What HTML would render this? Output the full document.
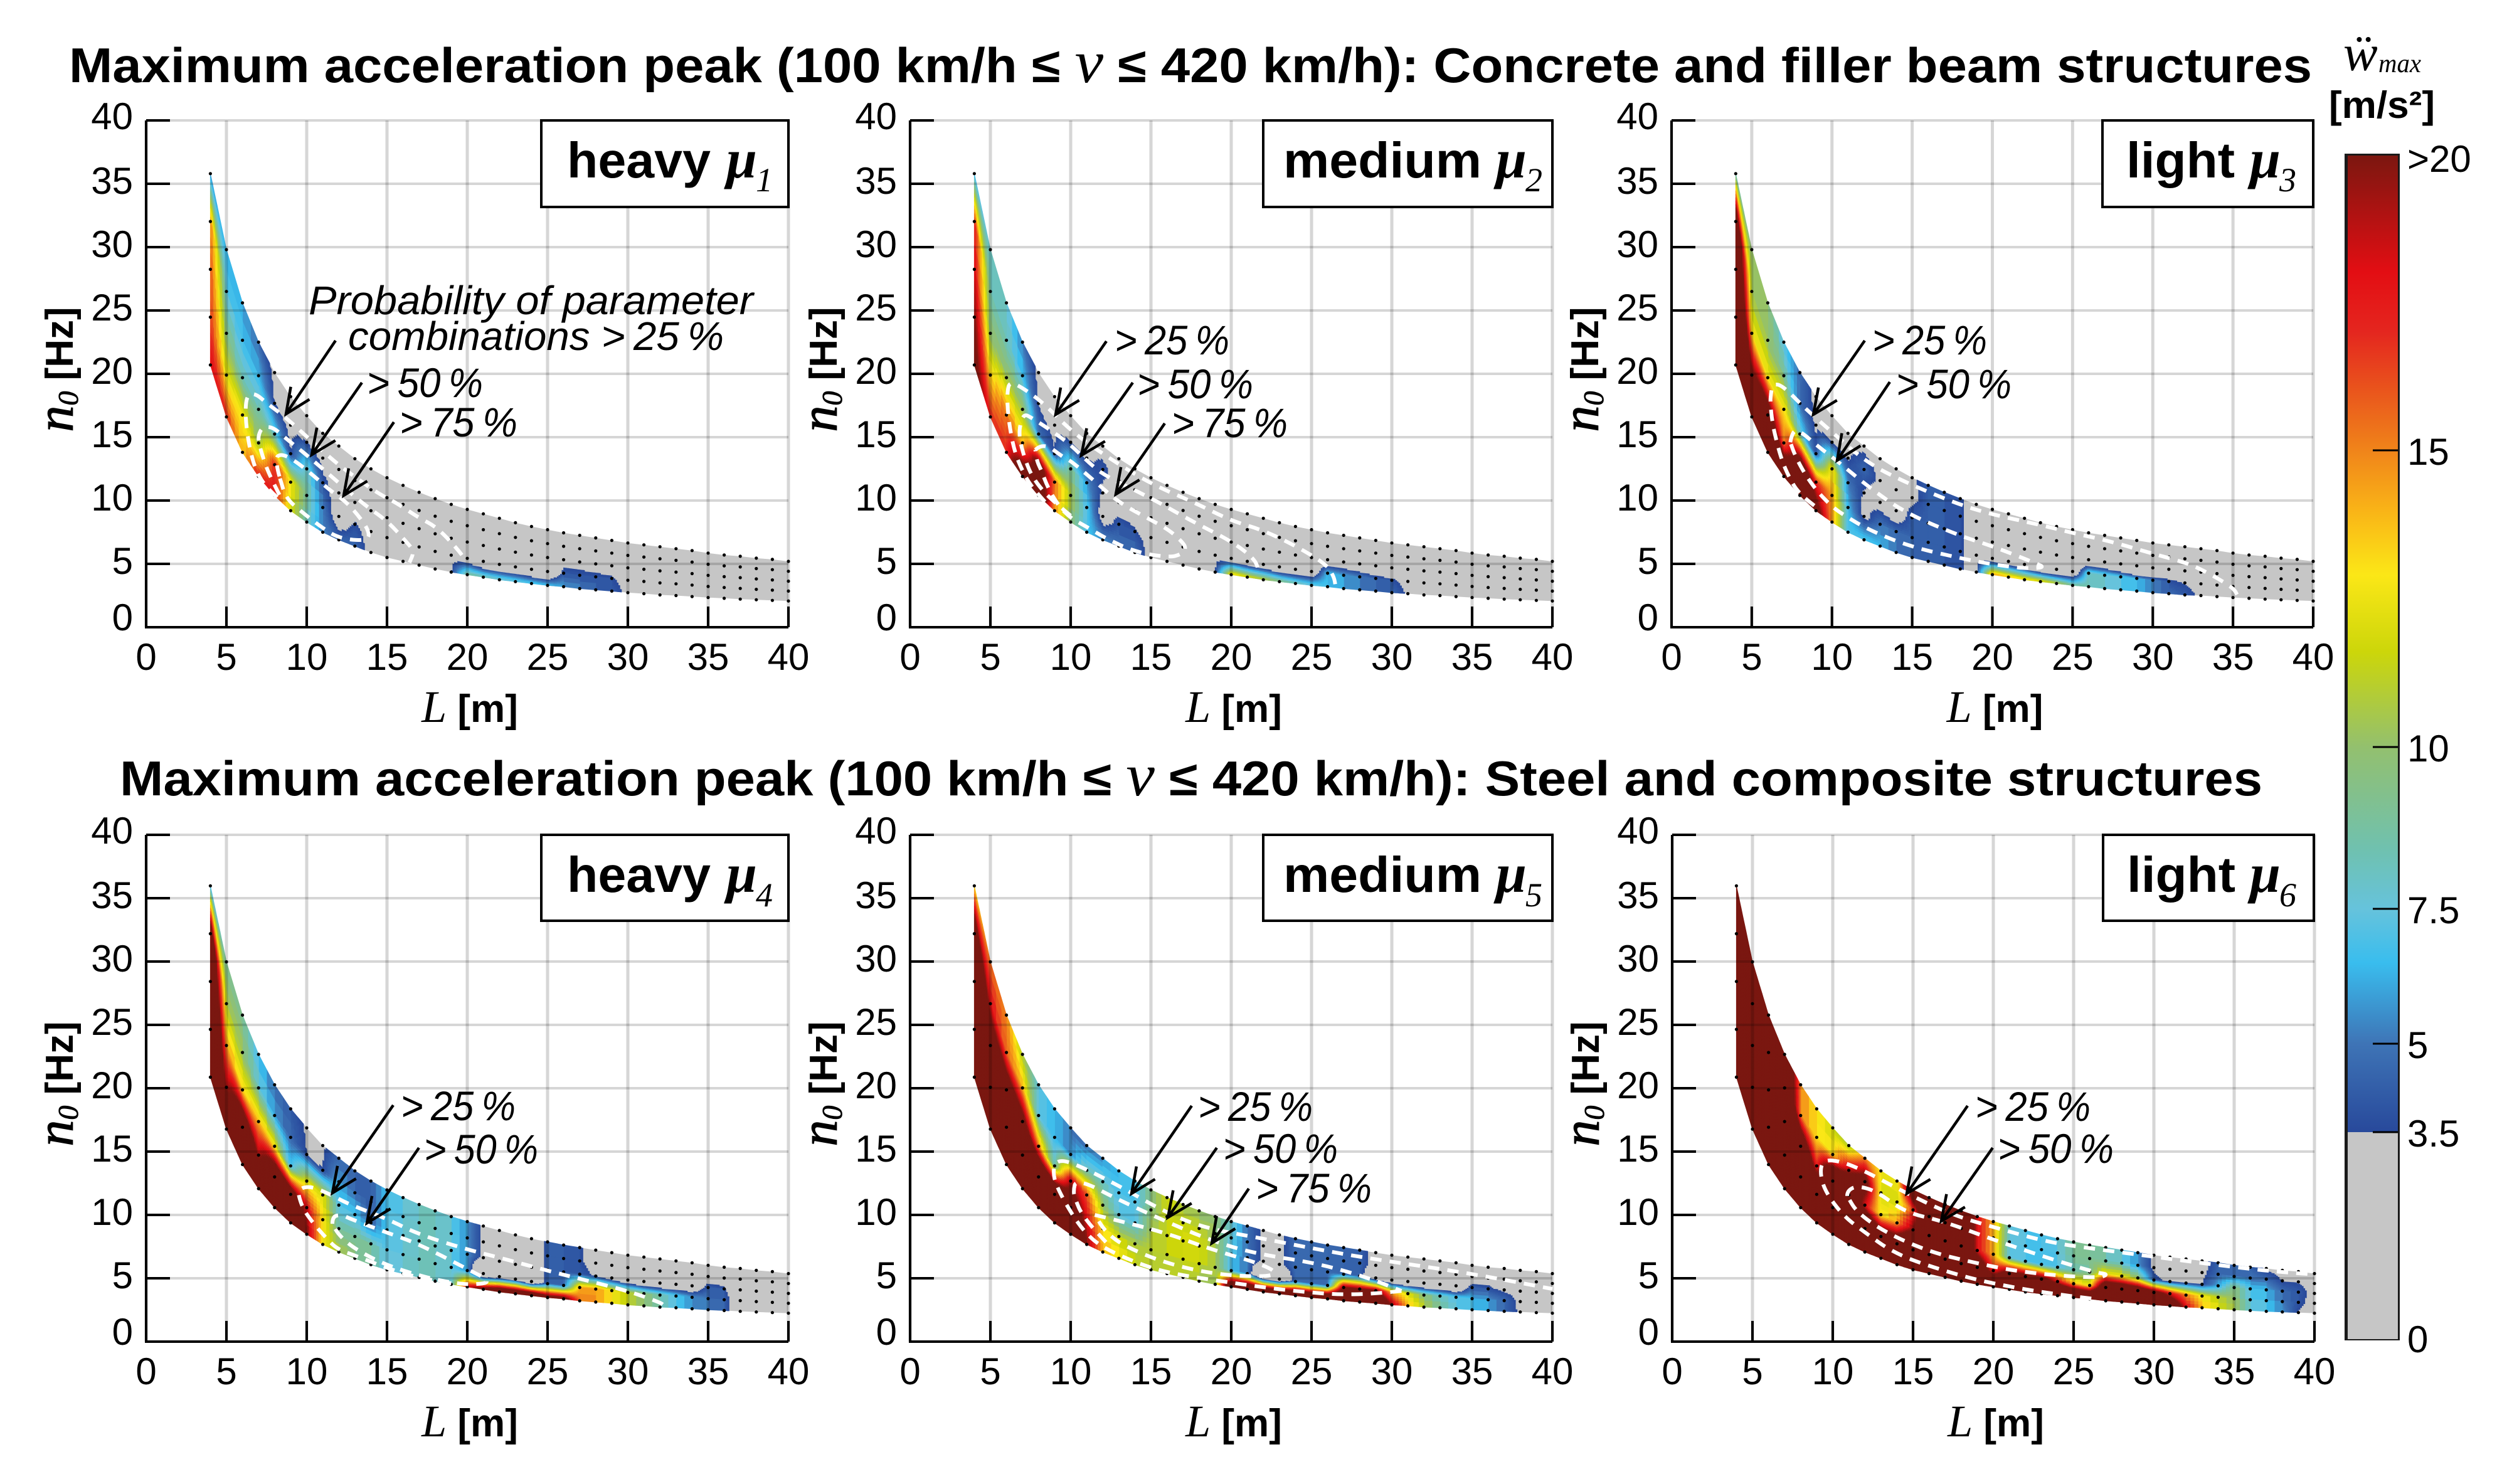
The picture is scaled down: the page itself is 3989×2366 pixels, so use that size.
<!DOCTYPE html>
<html lang="en">
<head>
<meta charset="utf-8">
<title>Maximum acceleration peak maps</title>
<style>
html,body{margin:0;padding:0;background:#fff;}
svg{display:block;}
text{font-family:"Liberation Sans",sans-serif;fill:#000;}
.serif{font-family:"Liberation Serif",serif;font-style:italic;}
.bold{font-weight:bold;}
.note{font-style:italic;font-size:64px;}
.pct{font-style:italic;font-size:66px;}
.tick{font-size:60px;}
.big{font-weight:bold;font-size:80px;}
.title{font-weight:bold;font-size:78px;}
.mu{font-family:"Liberation Serif",serif;font-style:italic;font-weight:bold;font-size:88px;}
.musub{font-family:"Liberation Serif",serif;font-style:italic;font-size:54px;}
.box{fill:#fff;stroke:#000;stroke-width:4;}
</style>
</head>
<body>
<svg id="figure" xmlns="http://www.w3.org/2000/svg" width="3989" height="2366" viewBox="0 0 3989 2366">
  <rect x="0" y="0" width="3989" height="2366" fill="#fff"/>
  <defs><linearGradient id="cbGrad" x1="0" y1="0" x2="0" y2="1"></linearGradient></defs>

  <text class="title" x="110" y="131" textLength="3576" lengthAdjust="spacingAndGlyphs">Maximum acceleration peak (100 km/h ≤ <tspan class="serif" style="font-weight:normal;font-size:96px">v</tspan> ≤ 420 km/h): Concrete and filler beam structures</text>
  <text class="title" x="191" y="1268" textLength="3416" lengthAdjust="spacingAndGlyphs">Maximum acceleration peak (100 km/h ≤ <tspan class="serif" style="font-weight:normal;font-size:96px">v</tspan> ≤ 420 km/h): Steel and composite structures</text>

  <g id="plots"></g>

  <g>
    <text class="note" x="492" y="501" textLength="709" lengthAdjust="spacingAndGlyphs">Probability of parameter</text>
    <text class="note" x="555" y="558" textLength="599" lengthAdjust="spacingAndGlyphs">combinations &gt;&#8201;25&#8201;%</text>
    <text class="pct" x="585" y="633" textLength="185" lengthAdjust="spacingAndGlyphs">&gt;&#8201;50&#8201;%</text>
    <text class="pct" x="637" y="696" textLength="188" lengthAdjust="spacingAndGlyphs">&gt;&#8201;75&#8201;%</text>
  </g>
  <g>
    <text class="pct" x="1777" y="565" textLength="183" lengthAdjust="spacingAndGlyphs">&gt;&#8201;25&#8201;%</text>
    <text class="pct" x="1813" y="635" textLength="185" lengthAdjust="spacingAndGlyphs">&gt;&#8201;50&#8201;%</text>
    <text class="pct" x="1868" y="697" textLength="185" lengthAdjust="spacingAndGlyphs">&gt;&#8201;75&#8201;%</text>
  </g>
  <g>
    <text class="pct" x="2985" y="565" textLength="183" lengthAdjust="spacingAndGlyphs">&gt;&#8201;25&#8201;%</text>
    <text class="pct" x="3023" y="635" textLength="184" lengthAdjust="spacingAndGlyphs">&gt;&#8201;50&#8201;%</text>
  </g>
  <g>
    <text class="pct" x="639" y="1786" textLength="183" lengthAdjust="spacingAndGlyphs">&gt;&#8201;25&#8201;%</text>
    <text class="pct" x="676" y="1855" textLength="182" lengthAdjust="spacingAndGlyphs">&gt;&#8201;50&#8201;%</text>
  </g>
  <g>
    <text class="pct" x="1910" y="1787" textLength="183" lengthAdjust="spacingAndGlyphs">&gt;&#8201;25&#8201;%</text>
    <text class="pct" x="1950" y="1854" textLength="183" lengthAdjust="spacingAndGlyphs">&gt;&#8201;50&#8201;%</text>
    <text class="pct" x="2002" y="1917" textLength="185" lengthAdjust="spacingAndGlyphs">&gt;&#8201;75&#8201;%</text>
  </g>
  <g>
    <text class="pct" x="3149" y="1787" textLength="184" lengthAdjust="spacingAndGlyphs">&gt;&#8201;25&#8201;%</text>
    <text class="pct" x="3185" y="1854" textLength="185" lengthAdjust="spacingAndGlyphs">&gt;&#8201;50&#8201;%</text>
  </g>

  <g>
    <rect class="box" x="863" y="192" width="394" height="138"/>
    <text class="big" x="904" y="283" textLength="229" lengthAdjust="spacingAndGlyphs">heavy</text>
    <text class="mu" x="1158" y="283">μ</text>
    <text class="musub" x="1205" y="305">1</text>
  </g>
  <g>
    <rect class="box" x="2014" y="192" width="461" height="138"/>
    <text class="big" x="2046" y="283" textLength="316" lengthAdjust="spacingAndGlyphs">medium</text>
    <text class="mu" x="2385" y="283">μ</text>
    <text class="musub" x="2432" y="305">2</text>
  </g>
  <g>
    <rect class="box" x="3352" y="192" width="336" height="138"/>
    <text class="big" x="3390" y="283" textLength="173" lengthAdjust="spacingAndGlyphs">light</text>
    <text class="mu" x="3587" y="283">μ</text>
    <text class="musub" x="3634" y="305">3</text>
  </g>
  <g>
    <rect class="box" x="863" y="1331" width="394" height="137"/>
    <text class="big" x="904" y="1422" textLength="229" lengthAdjust="spacingAndGlyphs">heavy</text>
    <text class="mu" x="1158" y="1422">μ</text>
    <text class="musub" x="1205" y="1445">4</text>
  </g>
  <g>
    <rect class="box" x="2014" y="1331" width="461" height="137"/>
    <text class="big" x="2046" y="1422" textLength="316" lengthAdjust="spacingAndGlyphs">medium</text>
    <text class="mu" x="2385" y="1422">μ</text>
    <text class="musub" x="2432" y="1445">5</text>
  </g>
  <g>
    <rect class="box" x="3353" y="1331" width="336" height="137"/>
    <text class="big" x="3391" y="1422" textLength="173" lengthAdjust="spacingAndGlyphs">light</text>
    <text class="mu" x="3587" y="1422">μ</text>
    <text class="musub" x="3634" y="1445">6</text>
  </g>

  <g id="colorbar">
    <text class="serif" x="3736" y="112" font-size="82">ẅ</text>
    <text class="serif" x="3792" y="115" font-size="42" textLength="68" lengthAdjust="spacingAndGlyphs">max</text>
    <text class="bold" x="3713" y="188" font-size="60" textLength="169" lengthAdjust="spacingAndGlyphs">[m/s²]</text>
  </g>
</svg>

<script>
// ---------- shared axes data ----------
const xTickValues = [0, 5, 10, 15, 20, 25, 30, 35, 40];
const yTickValues = [0, 5, 10, 15, 20, 25, 30, 35, 40];
const spanNodes = [4,5,6,7,8,9,10,11,12,13,14,15,16,17,18,19,20,21,22,23,24,25,26,27,28,29,30,31,32,33,34,35,36,37,38,39,40];
const bandUpper = [35.8,29.8,25.6,22.5,20.1,18.2,16.7,15.3,14.3,13.3,12.5,11.8,11.2,10.65,10.15,9.7,9.3,8.95,8.6,8.25,7.95,7.7,7.45,7.25,7.05,6.85,6.65,6.5,6.35,6.2,6.05,5.85,5.7,5.6,5.45,5.35,5.2];
const bandLower = [20.7,16.6,13.8,11.9,10.4,9.2,8.3,7.5,6.9,6.4,5.9,5.5,5.2,4.9,4.6,4.35,4.15,3.95,3.75,3.6,3.45,3.3,3.2,3.05,2.95,2.85,2.73,2.65,2.55,2.5,2.42,2.34,2.28,2.22,2.17,2.12,2.07];

// ---------- colour map (acceleration value -> colour) ----------
const cmapValues = [3.5,5,6.5,7.5,8.4,10,11.6,12.9,14,15,15.9,17,18,20];
const cmapColors = ['#28499b','#3e74b6','#39bdee','#66c3dc','#6fc1b0','#93c06e','#ccd60a','#fbe717','#f9b317','#f0841a','#ea5a1c','#e4261f','#e30e13','#7a1710'];
const colorbarTickValues = [20,15,10,7.5,5,3.5,0];
const colorbarTickLabels = ['>20','15','10','7.5','5','3.5','0'];

// ---------- acceleration peak per span (L=4..40), five frequency rows bottom -> top ----------
const mu1Values = [
[18,16.5,16,15,5.5],[17,12,9.5,7.5,6.5],[13.5,12.8,8,6.5,5.8],[17.5,10,8.7,6.3,4.6],[17.5,17,7.5,3.4,3],[11.5,12.8,3.4,3,3],[8,9,8,3.4,3],
[5.2,5,3.8,3,3],[4.5,1.9,3,3,3],[4.5,3.6,3,3,3],[2.9,3,3,3,3],[3,3,3,3,3],[3,3,3,3,3],[3,3,3,3,3],[3,3,3,3,3],[3.3,3,3,3,3],
[9,1.5,3,3,3],[8.5,-1,3,3,3],[8,-0.3,3,3,3],[7.5,-0.2,3,3,3],[7,-0.8,3,3,3],[6.5,-0.8,3,3,3],[6,3.9,3,3,3],[5,3.8,3,3,3],[4.5,3.7,3,3,3],[4,3.6,3,3,3],
[3.2,3,3,3,3],[3,3,3,3,3],[3,3,3,3,3],[3,3,3,3,3],[3,3,3,3,3],[3,3,3,3,3],[3,3,3,3,3],[3,3,3,3,3],[3,3,3,3,3],[3,3,3,3,3],[3,3,3,3,3]];
const mu2Values = [
[21,20,18.5,17,6.5],[17,13,9.5,8.5,8],[17,15.5,10.5,8.3,7.8],[24,13.5,10.3,6.5,5],[24,22,4.8,3.3,3],[14.5,15.5,3.6,3,3],[9.5,10.7,9,3.4,3],
[6.8,7,5.5,3.3,3],[5.5,2.2,3.2,3.8,3],[4.8,4,2.5,3,3],[4.6,3.6,3,3,3],[2.9,3,3,3,3],[3,3,3,3,3],[3,3,3,3,3],[3,3,3,3,3],[3.3,3,3,3,3],
[13,0.7,3,3,3],[12,-0.1,3,3,3],[11,0.3,3,3,3],[9.5,-0.5,3,3,3],[8.5,-0.3,3,3,3],[7.5,0.5,3,3,3],[6.8,6.5,0.5,3,3],[6,5.7,1.1,3,3],[5.2,5,0.7,3,3],[4.8,4,1,3,3],
[4.5,3.7,2,3,3],[3.2,3,3,3,3],[3,3,3,3,3],[3,3,3,3,3],[3,3,3,3,3],[3,3,3,3,3],[3,3,3,3,3],[3,3,3,3,3],[3,3,3,3,3],[3,3,3,3,3],[3,3,3,3,3]];
const mu3Values = [
[28,28,28,25,8],[28,21,13,10.5,10],[28,24,12.5,10,9.8],[28,15,13,9,7],[28,24,8,4.5,4.7],[22,17,3.7,3.3,3],[14.5,14.5,12.8,3.4,3],
[7,6.3,5,3.3,3],[7,2.8,3.3,4.5,3],[6.5,4.8,2.6,3.2,3],[5.2,4.5,1.9,3,3],[4.3,4.3,4.2,3,3.2],[4.2,4.2,4.2,4.2,4.2],[4.2,4.2,4.2,4.2,4.2],[3.6,3.6,3.6,3.6,3.6],[3,3,3,3,3],
[14.5,0.2,3,3,3],[13.8,-0.1,3,3,3],[13,-0.6,3,3,3],[12.5,-2.5,3,3,3],[11,-2.2,3,3,3],[9,-0.6,3,3,3],[8.5,8,-1,3,3],[8,7.5,-0.8,3,3],[7.5,7,-3,3,3],[6.7,6,-6,3,3],
[5.5,5,-2.5,3,3],[4.6,3.7,2,3,3],[4,3.4,3,3,3],[3.2,3,3,3,3],[3,3,3,3,3],[3,3,3,3,3],[3,3,3,3,3],[3,3,3,3,3],[3,3,3,3,3],[3,3,3,3,3],[3,3,3,3,3]];
const mu4Values = [
[28,28,28,24,6.5],[28,19,14.5,11,9],[28,26,13,10,9],[28,19,14,8,6.5],[28,26,12.5,5.8,4.6],[28,24,6.5,4.5,4],[20,18,12,3.48,3.35],
[12.5,13,12,3.52,3.25],[11,8.5,7,6,4.5],[9.5,9,7,4.5,4.5],[9,8.5,4.2,4,4.2],[7.5,7,7,6.8,6.5],[7.7,7.7,7.5,7.5,7.3],[8.2,8.2,8.2,8.2,8],[8.3,8.3,8.3,8.3,8.3],[7.5,7.3,7.5,7.5,7.3],
[18,5.5,5.5,5.5,5.5],[22,-3,3.1,3.1,3.1],[26,0,3,3,3],[26,1,3,3,3],[26,-2,0,0,0],[22,4.5,4.3,4.3,4.3],[22,4.3,4.3,4.3,4.3],[15.5,14,4,3.6,3.6],[14.8,14.5,3.3,3,3],[13,12.5,1.5,3,3],
[11.5,11,0.1,3,3],[10,9.5,-0.5,3,3],[8.5,8.5,-0.5,3,3],[7,7,0,3,3],[5.5,5.5,0.7,3,3],[5,5,4.2,1.9,3],[4.2,4.2,3.6,3,3],[2,2,2,3,3],[3,3,3,3,3],[3,3,3,3,3],[3,3,3,3,3]];
const mu5Values = [
[28,28,28,24,13],[28,28,24,18,15.5],[28,28,24,15.5,15],[28,28,22,14,10.5],[28,28,15,7.2,7.5],[28,28,8,6.5,6.3],[28,24,19,5.5,4.8],
[20,18,16,8.5,4.5],[14,13,10,8,5.5],[13,11.5,7.5,6.8,6.5],[11.5,10.5,7,7,6.5],[11,11,10.5,9.5,9.5],[10.5,11.3,11.5,11.3,11.8],[11,11.5,12,11.5,10.5],[10.5,11.5,12,11,10],[9.8,10.5,10.5,10,9.5],
[26,6.5,7,7.5,8],[28,5,4.8,4.8,4.7],[28,-2,3.2,3.2,3.2],[28,-2,3.1,3.1,3.1],[28,4.6,4.6,4.6,4.6],[28,4.6,4.6,4.6,4.6],[28,4.6,4.6,4.6,4.6],[28,20,4.4,4.5,4.5],[28,20,4.3,4.3,4.3],[28,20,0.5,2.8,2.8],
[19,14,-1.2,3,3],[14,12,-2.2,3,3],[11,9.5,-1.4,3,3],[9,8,-1,3,3],[7.5,7,-1.3,3,3],[7,6.5,4.5,1.2,3],[6,5.5,3.7,3,3],[4.5,4.5,3.2,3,3],[3.2,3,3,3,3],[3,3,3,3,3],[3,3,3,3,3]];
const mu6Values = [
[28,28,28,28,28],[28,28,28,28,28],[28,28,28,28,28],[28,28,28,28,26],[28,28,26,15,15],[28,28,17,13,13],[28,28,28,13,11.5],
[28,28,28,19,10.5],[28,28,18,22,15],[28,24,12.5,12,13],[28,24,14.5,11.5,12],[28,28,20,16,24],[28,28,28,28,28],[28,28,28,28,28],[28,28,28,28,28],[28,25,18,18,18],
[28,17,14,14,14],[30,22,7.5,7.5,8],[30,22,7,7,7],[30,22,6.5,6.5,6.5],[30,18,7,7.5,7.5],[30,14,8,9,9],[30,12,9,9.3,9.3],[30,25,13,8.5,8.5],[30,25,12,7.5,7.5],[30,24,10,5.5,5.5],
[30,22,4,3,3],[25,18,3,3,3],[18,15,3.4,3,3],[14,12.5,3.4,3,3],[12,11,6,4.5,4.2],[10.5,10,9.5,5,4.4],[8,7.5,7,5,4.3],[7,6.5,6,4.5,3.2],[5.5,5,4.5,3.4,3],[3.4,3.8,4,3.4,3],[3,3,3,3,3]];

// ---------- probability contours as [L, n0] readings ----------
const mu1Contour25 = [[8.16,10.25],[7.5,11],[6.85,12.3],[6.46,14],[6.2,16.2],[6.2,17.8],[6.4,18.4],[6.85,18.4],[7.5,17.7],[8.55,16.7],[9.7,15.4],[10.9,14],[12.1,12.7],[13.3,11.6],[14.4,10.6],[15.6,9.8],[16.9,8.7],[18.1,7.9],[19.3,6.3],[19.9,5.3]];
const mu1Contour50 = [[8.3,10.45],[7.8,11.7],[7.4,12.9],[7,14.6],[7,15.2],[7.25,15.8],[7.9,15.8],[8.7,14.9],[9.7,13.9],[11,12.5],[12.35,11],[13.66,9.6],[15,8.4],[16.1,6.9],[16.7,6],[16.4,5.1]];
const mu1Contour75 = [[8.3,11.9],[8,13.3],[8.4,13.7],[9.2,13.2],[10.4,12],[11.4,10.85],[12.35,10],[13.1,9],[13.9,7.6],[13.8,6.8],[12,7],[10.8,8],[9.6,9.2],[8.7,10.2],[8.3,11.9]];
const mu2Contour25 = [[8.4,9.9],[7.6,11],[7,12.3],[6.46,14],[6.1,16.6],[6.04,18.5],[6.2,19.4],[7,18.9],[8.3,17.7],[10.1,15.4],[12.2,13.5],[15,11.3],[17.7,9.85],[20,8.4],[21.9,7.7],[23.9,6.5],[25.9,5],[26.4,4],[26.5,3.2]];
const mu2Contour50 = [[10,8.8],[9.2,9.65],[8.3,10.7],[7.6,11.9],[7.2,13.1],[6.9,14.4],[6.8,15.2],[6.85,16],[7.1,16.85],[7.6,16.5],[8.7,15.6],[10,14.4],[11.2,12.9],[12.2,11.9],[15,10.2],[17.5,8.4],[20,6.8],[21.4,5.45],[21.7,4.6],[21.6,4.3]];
const mu2Contour75 = [[7.8,14],[8.3,14.6],[9.6,13.35],[10,13.15],[11.7,11.3],[13,9.85],[14.8,8.6],[16.1,7.7],[16.9,6.8],[17.2,6.25],[16.9,5.75],[16.1,5.5],[14,5.95],[12.2,7],[10.9,8],[10,8.6],[9.2,9.65],[8.55,11.1],[8.2,12.3],[7.9,13.1],[7.8,14]];
const mu3Contour25 = [[8.9,9.6],[7.95,10.5],[7.3,11.9],[6.9,13.1],[6.6,14.4],[6.3,16],[6.15,17.7],[6.2,18.5],[6.3,19.2],[6.9,19.1],[8.3,17.3],[10,15.4],[12.25,12.9],[15,11.2],[18,9.65],[20,8.9],[22.9,8.1],[25,7.44],[27.3,6.8],[30,5.8],[32,5.12],[33.2,4.46],[35,3.14],[35.3,2.47]];
const mu3Contour50 = [[7.4,14.6],[7.55,15.6],[8.1,15.4],[9,14.4],[10.3,13.15],[12.25,11.1],[14.6,9],[18,7.2],[20,6.4],[22.9,4.96],[23.2,4.7],[22,4.63],[20,4.96],[18,5.45],[14.9,6.35],[12.25,7.7],[10.55,9],[9.9,9.65],[9.1,10.7],[8.3,12.1],[7.7,13.55],[7.4,14.6]];
const mu4Contour25 = [[19,4.6],[17,5],[15,5.8],[13,6.8],[11.9,7.3],[11.2,8.2],[10.5,9.2],[9.8,10.4],[9.5,11.5],[9.5,11.9],[9.8,12.2],[10.4,12.2],[11.5,11.6],[12.7,10.8],[15,9.7],[16.9,8.5],[19.9,7.3],[22.1,6.6],[25,5.6],[27.35,4.85],[30,4],[32,3.1],[32.2,2.9]];
const mu4Contour50 = [[11.6,9.3],[11.6,9.9],[12.2,10],[12.7,9.7],[15,8.6],[16.9,7.75],[19.9,5.8],[21.55,4.7],[20.4,4.5],[19.3,4.6],[17.6,5],[15,6],[13,7.3],[12,8.4],[11.6,9.3]];
const mu5Contour25 = [[30.6,4],[27.8,3.6],[23.7,4],[19.7,4.7],[15.9,5.45],[13.75,6.4],[11.9,7.5],[10.9,8.6],[10,10.2],[9.1,12.3],[8.9,13.4],[9.1,14.3],[10,14.2],[12.8,12.45],[15.9,10.2],[18.4,8.95],[21.7,8.2],[25.3,7.3],[28.4,6.6],[34.6,5.45],[40,4.16]];
const mu5Contour50 = [[12.2,7.85],[10.8,9.7],[10.2,11.5],[10.2,12.1],[10.3,12.6],[11.1,12.45],[12.8,11.3],[15.9,9.5],[19,7.85],[21.7,6.9],[25.3,6.2],[28.4,5.1],[30.6,4]];
const mu5Contour75 = [[11.5,10],[12.5,9.7],[15.9,8.6],[18.7,7.3],[21.7,6.2],[22.9,5.45],[22.2,5.1],[19,5.3],[15.9,6.2],[13.4,7.5],[12.2,8.6],[11.5,10]];
const mu6Contour25 = [[26.1,3.4],[23.4,3.8],[19.5,4.7],[16.9,5.6],[13.9,6.9],[11.8,8.8],[10.6,10],[9.5,11.9],[9.2,13.4],[9.4,14.3],[10.3,14.3],[11.8,13.6],[14.6,11.7],[17.45,10],[20.1,9],[23.4,7.85],[26.4,7.3],[30,6.7],[33,6.2],[36.9,5.6],[40,5.3]];
const mu6Contour50 = [[10.9,11.5],[10.9,11.9],[11.5,12.3],[12.7,11.9],[14.5,10.2],[16.9,9.5],[20.1,8],[23.4,6.6],[26.4,5.45],[27.2,5.3],[26.4,5],[21.9,5.45],[18.9,6.2],[16,7.1],[13.3,8.6],[11.5,10.2],[10.9,11.5]];

// ---------- panel wiring ----------
const panelDefs = [
  {id:'mu1', x:233,  y:192,  w:1024, h:808, band:0,    values:mu1Values, contours:[mu1Contour25,mu1Contour50,mu1Contour75],
   arrows:[[535,543,456,660],[577,610,497,725],[628,673,548,790]]},
  {id:'mu2', x:1451, y:192,  w:1024, h:808, band:0,    values:mu2Values, contours:[mu2Contour25,mu2Contour50,mu2Contour75],
   arrows:[[1764,544,1683,661],[1806,610,1724,726],[1857,675,1779,788]]},
  {id:'mu3', x:2665, y:192,  w:1023, h:808, band:0,    values:mu3Values, contours:[mu3Contour25,mu3Contour50],
   arrows:[[2973,543,2891,661],[3013,609,2929,734]]},
  {id:'mu4', x:233,  y:1331, w:1024, h:808, band:-3.5, values:mu4Values, contours:[mu4Contour25,mu4Contour50],
   arrows:[[627,1762,530,1902],[668,1830,585,1950]]},
  {id:'mu5', x:1451, y:1331, w:1024, h:808, band:-3.5, values:mu5Values, contours:[mu5Contour25,mu5Contour50,mu5Contour75],
   arrows:[[1900,1763,1804,1903],[1940,1830,1862,1941],[1991,1895,1932,1982]]},
  {id:'mu6', x:2666, y:1331, w:1024, h:808, band:-3.5, values:mu6Values, contours:[mu6Contour25,mu6Contour50],
   arrows:[[3137,1763,3040,1903],[3177,1830,3095,1947]]}
];

const NS = 'http://www.w3.org/2000/svg';
function mk(tag, attrs, parent) {
  const node = document.createElementNS(NS, tag);
  for (const k in attrs) node.setAttribute(k, attrs[k]);
  parent.appendChild(node);
  return node;
}
function hexToRgb(h) { return [parseInt(h.slice(1,3),16), parseInt(h.slice(3,5),16), parseInt(h.slice(5,7),16)]; }
function colorOf(v) {
  if (v >= cmapValues[cmapValues.length-1]) return cmapColors[cmapColors.length-1];
  for (let i = 0; i < cmapValues.length-1; i++) {
    if (v <= cmapValues[i+1]) {
      const t = Math.max(0, (v-cmapValues[i])/(cmapValues[i+1]-cmapValues[i]));
      const a = hexToRgb(cmapColors[i]), b = hexToRgb(cmapColors[i+1]);
      return 'rgb(' + a.map((c,j)=>Math.round(c+(b[j]-c)*t)).join(',') + ')';
    }
  }
  return cmapColors[cmapColors.length-1];
}
const THRESH = 3.5, LEVEL = 0.125;
const clampV = v => Math.min(20, Math.max(THRESH, v));

function drawPanel(p) {
  const xs = L => p.x + L*p.w/40;
  const ys = n => p.y + p.h - n*p.h/40;
  const root = document.getElementById('plots');
  const g = mk('g', {}, root);
  
  

  const bandG = mk('g', {transform:'translate(0,'+p.band+')'}, g);
  
  

  // grey band
  let d = '';
  spanNodes.forEach((L,i)=>{ d += (i?'L':'M') + xs(L).toFixed(1) + ' ' + ys(bandUpper[i]).toFixed(1); });
  for (let i = spanNodes.length-1; i >= 0; i--) d += 'L' + xs(spanNodes[i]).toFixed(1) + ' ' + ys(bandLower[i]).toFixed(1);
  const bandPoly = mk('path', {d:d+'Z', fill:'#c6c6c6'}, bandG);
  
  

  // heat field from the value table
  const levels = {};
  const pt = (c, fx, r) => {
    const L = spanNodes[c] + fx*(spanNodes[c+1]-spanNodes[c]);
    const lo = bandLower[c] + fx*(bandLower[c+1]-bandLower[c]);
    const up = bandUpper[c] + fx*(bandUpper[c+1]-bandUpper[c]);
    return xs(L).toFixed(1) + ' ' + ys(lo + r*(up-lo)).toFixed(1);
  };
  for (let c = 0; c < spanNodes.length-1; c++) {
    for (let r = 0; r < 4; r++) {
      const a = p.values[c][r], b = p.values[c+1][r], e = p.values[c][r+1], f = p.values[c+1][r+1];
      const lo = Math.min(a,b,e,f), hi = Math.max(a,b,e,f);
      if (hi < THRESH) continue;
      let sx = Math.max(Math.abs(clampV(a)-clampV(b)), Math.abs(clampV(e)-clampV(f)));
      let sy = Math.max(Math.abs(clampV(a)-clampV(e)), Math.abs(clampV(b)-clampV(f)));
      sx = Math.min(12, Math.max(1, Math.ceil(sx*0.9)));
      sy = Math.min(16, Math.max(1, Math.ceil(sy*1.1)));
      if (lo < THRESH) { sx = Math.max(sx,10); sy = Math.max(sy,10); }
      if (hi > 20) { sx = Math.max(sx,10); sy = Math.max(sy,12); }
      for (let i = 0; i < sx; i++) {
        for (let j = 0; j < sy; j++) {
          const cx = (i+0.5)/sx, cy = (j+0.5)/sy;
          const v = (a*(1-cx)+b*cx)*(1-cy) + (e*(1-cx)+f*cx)*cy;
          if (v < THRESH) continue;
          const lv = Math.round((Math.min(v,20)-THRESH)/LEVEL);
          const r0 = (r + j/sy)/4, r1 = (r + (j+1)/sy)/4;
          const quad = 'M'+pt(c,i/sx,r0)+'L'+pt(c,(i+1)/sx,r0)+'L'+pt(c,(i+1)/sx,r1)+'L'+pt(c,i/sx,r1)+'Z';
          levels[lv] = (levels[lv]||'') + quad;
        }
      }
    }
  }
  Object.keys(levels).forEach(lv => {
    const col = colorOf(THRESH + lv*LEVEL);
    const level = mk('path', {d:levels[lv], fill:col, stroke:col, 'stroke-width':1}, bandG);
    
    
  });

  // grid on top of the field
  const gridG = mk('g', {stroke:'rgba(0,0,0,0.16)', fill:'none'}, g);
  
  
  xTickValues.forEach(t => {
    const line = mk('line', {x1:xs(t), x2:xs(t), y1:p.y, y2:p.y+p.h, 'stroke-width':5}, gridG);
    
    
  });
  yTickValues.forEach(t => {
    const line = mk('line', {x1:p.x, x2:p.x+p.w, y1:ys(t), y2:ys(t), 'stroke-width':4}, gridG);
    
    
  });

  // sample dots
  const dotsG = mk('g', {fill:'#000', transform:'translate(0,'+p.band+')'}, g);
  
  
  spanNodes.forEach((L,i) => {
    for (let r = 0; r < 5; r++) {
      const n = bandLower[i] + (bandUpper[i]-bandLower[i])*r/4;
      const dot = mk('circle', {cx:xs(L).toFixed(1), cy:ys(n).toFixed(1), r:2.6}, dotsG);
      
      
    }
  });

  // dashed probability contours
  p.contours.forEach(c => {
    const pts = c.map(q => [xs(q[0]), ys(q[1])]);
    let s = 'M' + pts[0][0].toFixed(1) + ' ' + pts[0][1].toFixed(1);
    for (let i = 1; i < pts.length-1; i++) {
      const mx = (pts[i][0]+pts[i+1][0])/2, my = (pts[i][1]+pts[i+1][1])/2;
      s += 'Q' + pts[i][0].toFixed(1) + ' ' + pts[i][1].toFixed(1) + ' ' + mx.toFixed(1) + ' ' + my.toFixed(1);
    }
    const last = pts[pts.length-1];
    s += 'L' + last[0].toFixed(1) + ' ' + last[1].toFixed(1);
    const contour = mk('path', {d:s, fill:'none', stroke:'#fff', 'stroke-width':6, 'stroke-dasharray':'18 13'}, g);
    
    
  });

  // annotation arrows
  p.arrows.forEach(a => {
    const ang = Math.atan2(a[3]-a[1], a[2]-a[0]), hl = 44, sp = 0.42;
    const hx1 = a[2]-hl*Math.cos(ang-sp), hy1 = a[3]-hl*Math.sin(ang-sp);
    const hx2 = a[2]-hl*Math.cos(ang+sp), hy2 = a[3]-hl*Math.sin(ang+sp);
    const dd = 'M'+a[0]+' '+a[1]+'L'+a[2]+' '+a[3]+'M'+hx1.toFixed(1)+' '+hy1.toFixed(1)+'L'+a[2]+' '+a[3]+'L'+hx2.toFixed(1)+' '+hy2.toFixed(1);
    const arrow = mk('path', {d:dd, fill:'none', stroke:'#000', 'stroke-width':4.5}, g);
    
    
  });

  // axes
  const axis = mk('g', {stroke:'#000', fill:'none', 'stroke-width':4}, g);
  
  
  const axisLines = mk('path', {d:'M'+p.x+' '+p.y+'V'+(p.y+p.h)+'H'+(p.x+p.w)}, axis);
  
  
  xTickValues.forEach(t => {
    const tick = mk('line', {x1:xs(t), x2:xs(t), y1:p.y+p.h-33, y2:p.y+p.h}, axis);
    
    
    const lab = mk('text', {x:xs(t), y:p.y+p.h+68, 'text-anchor':'middle', class:'tick'}, g);
    lab.textContent = String(t);
    
    
  });
  yTickValues.forEach(t => {
    const tick = mk('line', {x1:p.x, x2:p.x+38, y1:ys(t), y2:ys(t)}, axis);
    
    
    const off = t === 0 ? 5 : (t === 40 ? 14 : 16);
    const lab = mk('text', {x:p.x-21, y:ys(t)+off, 'text-anchor':'end', class:'tick'}, g);
    lab.textContent = String(t);
    
    
  });

  // axis titles
  const xt = mk('text', {x:p.x+p.w/2+4, y:p.y+p.h+151, 'text-anchor':'middle', 'font-size':62}, g);
  
  
  const xt1 = mk('tspan', {class:'serif', 'font-size':72}, xt); xt1.textContent = 'L';
  const xt2 = mk('tspan', {class:'bold'}, xt); xt2.textContent = ' [m]';

  const cy = p.y + p.h/2 - 7, bx = p.x - 117;
  const yt = mk('text', {transform:'rotate(-90 '+bx+' '+cy+')', x:bx, y:cy, 'text-anchor':'middle', 'font-size':62}, g);
  
  
  const yt1 = mk('tspan', {class:'serif', 'font-size':84, stroke:'#000', 'stroke-width':1.2}, yt); yt1.textContent = 'n';
  const yt2 = mk('tspan', {class:'serif', 'font-size':46, dy:8, stroke:'#000', 'stroke-width':0.8}, yt); yt2.textContent = '0';
  const yt3 = mk('tspan', {class:'bold', dy:-8}, yt); yt3.textContent = ' [Hz]';
}
panelDefs.forEach(drawPanel);

// ---------- colour bar ----------
function colorbarY(v) {
  // piecewise scale of the bar, as marked by its ticks
  const vs = [20,15,10,7.5,5,3.5,0], ps = [245,718,1191,1449,1664,1805,2137];
  for (let i = 0; i < vs.length-1; i++) {
    if (v >= vs[i+1]) return ps[i] + (vs[i]-v)/(vs[i]-vs[i+1])*(ps[i+1]-ps[i]);
  }
  return ps[ps.length-1];
}
(function () {
  const cb = document.getElementById('colorbar');
  const grad = document.getElementById('cbGrad');
  const top = colorbarY(20), split = colorbarY(3.5), bot = colorbarY(0);
  // gradient stops must run top -> bottom, i.e. from the largest value down
  for (let i = cmapValues.length-1; i >= 0; i--) {
    mk('stop', {offset:((colorbarY(cmapValues[i])-top)/(split-top)).toFixed(4), 'stop-color':cmapColors[i]}, grad);
  }
  const barX = 3743, barW = 80;
  const colored = mk('rect', {x:barX, y:top, width:barW, height:split-top, fill:'url(#cbGrad)'}, cb);
  
  
  const grey = mk('rect', {x:barX, y:split, width:barW, height:bot-split, fill:'#c6c6c6'}, cb);
  
  
  const frame = mk('path', {d:'M3738 '+top+'H3826V'+bot+'H3738Z M'+barX+' '+(top+3)+'V'+(bot-2)+'H'+(barX+barW)+'V'+(top+3)+'Z', fill:'#1a1a1a', 'fill-rule':'evenodd'}, cb);
  
  
  colorbarTickValues.forEach((v,i) => {
    const y = colorbarY(v);
    if (v !== 20 && v !== 0) {
      const t = mk('line', {x1:3783, x2:barX+barW, y1:y, y2:y, stroke:'#000', 'stroke-width':3}, cb);
      
      
    }
    const lab = mk('text', {x:3838, y:y+(v===20?29:(v===0?19:23)), class:'tick', 'font-size':62}, cb);
    lab.textContent = colorbarTickLabels[i];
    
    
  });
})();
</script>
</body>
</html>
